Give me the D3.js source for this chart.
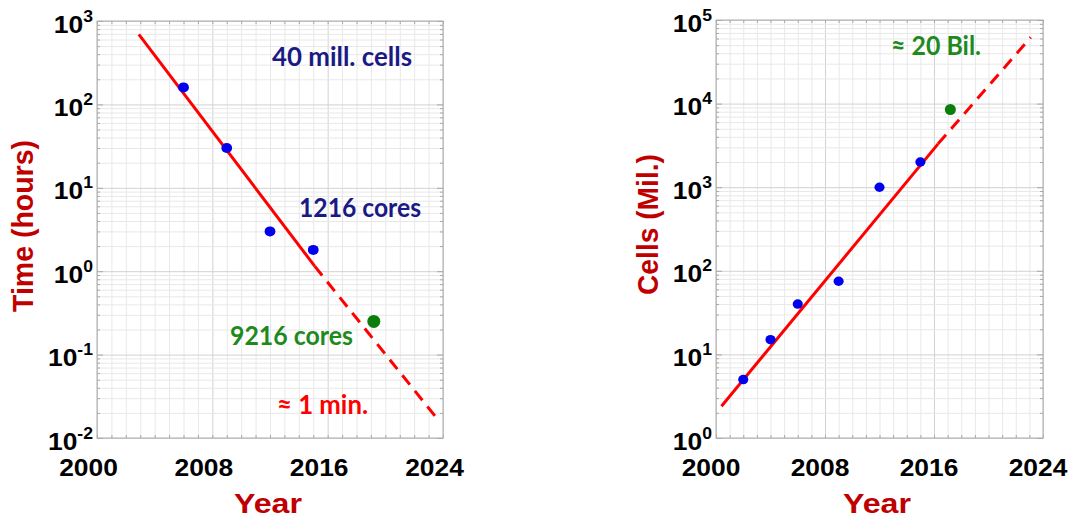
<!DOCTYPE html>
<html><head><meta charset="utf-8">
<script src="https://cdn.jsdelivr.net/npm/d3@7"></script>
<style>body{margin:0;background:#fff}</style></head>
<body><svg id="c" width="1071" height="532"></svg>
<script>
// ---- data ----
const yearTicks = [2000, 2008, 2016, 2024];
const timeYears = [2006, 2009, 2012, 2015];
const timeHours = [160, 30, 3, 1.8];
const timeNewYear = [2019.2];
const timeNewHours = [0.25];
const timeFitYears = [2002.9, 2015.1];
const timeFitHours = [690, 1.15];
const timeProjYears = [2015.1, 2023.6];
const timeProjHours = [1.15, 0.017];
const cellYears = [2002, 2004, 2006, 2009, 2012, 2015];
const cellMil = [5, 15, 40, 75, 1000, 2000];
const cellNewYear = [2017.2];
const cellNewMil = [8500];
const cellFitYears = [2000.4, 2016.3];
const cellFitMil = [2.4, 3300];
const cellProjYears = [2016.3, 2023.1];
const cellProjMil = [3300, 62000];

const svg = d3.select("#c");
const SX = 1.1;
const AXFONT = "'Liberation Sans', Arial, sans-serif";
const ANFONT = "Lato, 'Open Sans', sans-serif";

function zip(a, b) { return a.map((v, i) => [v, b[i]]); }

function panel(o) {
  const x = d3.scaleLinear().domain([2000, 2024]).range([o.left, o.right]);
  const y = d3.scaleLog().domain(o.yDomain).range([o.bottom, o.top]);
  const W = o.right - o.left, H = o.bottom - o.top;
  const g = svg.append("g");
  const minorX = d3.range(2000, 2025);
  const allY = y.ticks();
  const isDec = v => Math.abs(Math.log10(v) - Math.round(Math.log10(v))) < 1e-9;
  const decY = allY.filter(isDec);
  const minorY = allY.filter(v => !isDec(v));

  function clean(sel) { sel.select(".domain").remove(); sel.selectAll("text").remove(); }

  // grids
  const gx = g.append("g").attr("transform", `translate(0,${o.bottom})`)
    .call(d3.axisBottom(x).tickValues(minorX).tickSize(-H).tickFormat(""));
  clean(gx);
  gx.selectAll("line").attr("stroke", d => yearTicks.includes(d) ? "#d2d2d2" : "#e8e8e8").attr("stroke-width", 1);
  const gy = g.append("g").attr("transform", `translate(${o.left},0)`)
    .call(d3.axisLeft(y).tickValues(allY).tickSize(-W).tickFormat(""));
  clean(gy);
  gy.selectAll("line").attr("stroke", d => isDec(d) ? "#d2d2d2" : "#e8e8e8").attr("stroke-width", 1);

  // inward tick marks on all sides
  const tickCol = "#a8a8a8";
  [[d3.axisBottom(x), `translate(0,${o.bottom})`], [d3.axisTop(x), `translate(0,${o.top})`]].forEach(([ax, tr]) => {
    const s = g.append("g").attr("transform", tr).call(ax.tickValues(minorX).tickSize(-3).tickFormat(""));
    clean(s); s.selectAll("line").attr("stroke", tickCol);
  });
  [[d3.axisLeft(y), `translate(${o.left},0)`], [d3.axisRight(y), `translate(${o.right},0)`]].forEach(([ax, tr]) => {
    const s = g.append("g").attr("transform", tr).call(ax.tickValues(minorY).tickSize(-3).tickFormat(""));
    clean(s); s.selectAll("line").attr("stroke", tickCol);
    const s2 = g.append("g").attr("transform", tr).call(ax.tickValues(decY).tickSize(-6).tickFormat(""));
    clean(s2); s2.selectAll("line").attr("stroke", tickCol);
  });

  // frame
  g.append("rect").attr("x", o.left).attr("y", o.top).attr("width", W).attr("height", H)
    .attr("fill", "none").attr("stroke", "#adadad").attr("stroke-width", 1);

  // x tick labels
  const xl = g.append("g").attr("transform", `translate(0,${o.bottom})`)
    .call(d3.axisBottom(x).tickValues(yearTicks).tickSize(0).tickFormat(d3.format("d")));
  xl.select(".domain").remove();
  xl.selectAll("text").attr("y", null).attr("dy", null)
    .attr("transform", `translate(${o.xlabDx},38) scale(${SX},1)`)
    .attr("font-family", AXFONT).attr("font-weight", "bold").attr("font-size", 24).attr("fill", "#000");

  // y tick labels with superscripts
  const yl = g.append("g").attr("transform", `translate(${o.left},0)`)
    .call(d3.axisLeft(y).tickValues(decY).tickSize(0).tickFormat(""));
  yl.select(".domain").remove();
  yl.selectAll("text").each(function (d) {
    const t = d3.select(this);
    t.attr("x", null).attr("dy", null).attr("text-anchor", "end")
      .attr("transform", `translate(-4,11) scale(${SX},1)`)
      .attr("font-family", AXFONT).attr("font-weight", "bold").attr("fill", "#000");
    t.append("tspan").attr("font-size", 24).text("10");
    t.append("tspan").attr("font-size", 16).attr("dy", -11).text(String(Math.round(Math.log10(d))));
  });

  // titles
  g.append("text").attr("text-anchor", "middle")
    .attr("transform", `translate(${o.ytX},${o.ytY}) rotate(-90)`)
    .attr("font-family", AXFONT).attr("font-weight", "bold").attr("font-size", 29)
    .attr("fill", "#c00000").attr("textLength", o.ytLen).attr("lengthAdjust", "spacingAndGlyphs")
    .text(o.yTitle);
  g.append("text").attr("text-anchor", "middle")
    .attr("x", o.xtX).attr("y", 513)
    .attr("font-family", AXFONT).attr("font-weight", "bold").attr("font-size", 27)
    .attr("fill", "#c00000").attr("textLength", 68).attr("lengthAdjust", "spacingAndGlyphs")
    .text("Year");

  // lines
  const line = d3.line().x(d => x(d[0])).y(d => y(d[1]));
  g.append("path").datum(zip(o.fitX, o.fitY)).attr("d", line)
    .attr("fill", "none").attr("stroke", "#ff0000").attr("stroke-width", 3);
  g.append("path").datum(zip(o.projX, o.projY)).attr("d", line)
    .attr("fill", "none").attr("stroke", "#ff0000").attr("stroke-width", 3).attr("stroke-dasharray", "12,8");

  // points
  g.append("g").selectAll("ellipse").data(zip(o.ptX, o.ptY)).join("ellipse")
    .attr("cx", d => x(d[0])).attr("cy", d => y(d[1])).attr("rx", o.r * 1.08).attr("ry", o.r)
    .attr("fill", "#0000ee");
  g.append("g").selectAll("ellipse").data(zip(o.newX, o.newY)).join("ellipse")
    .attr("cx", d => x(d[0])).attr("cy", d => y(d[1])).attr("rx", o.rNew).attr("ry", o.rNew)
    .attr("fill", "#0a7d0a");

  // annotations
  o.notes.forEach(n => {
    g.append("text").attr("x", n.x).attr("y", n.y).text(n.t)
      .attr("font-family", ANFONT).attr("font-weight", "bold").attr("font-size", 26)
      .attr("fill", n.c).attr("textLength", n.w).attr("lengthAdjust", "spacingAndGlyphs");
  });
}

panel({
  left: 97, right: 443, top: 21, bottom: 438, yDomain: [0.01, 1000],
  xlabDx: -9, yTitle: "Time (hours)", ytX: 33, ytY: 226, ytLen: 172, xtX: 268,
  fitX: timeFitYears, fitY: timeFitHours, projX: timeProjYears, projY: timeProjHours,
  ptX: timeYears, ptY: timeHours, newX: timeNewYear, newY: timeNewHours, r: 5, rNew: 6.5,
  notes: [
    { t: "40 mill. cells", x: 272, y: 66, w: 140, c: "#1a1a85" },
    { t: "1216 cores", x: 299, y: 217, w: 122, c: "#1a1a85" },
    { t: "9216 cores", x: 230, y: 345, w: 123, c: "#1e8a1e" },
    { t: "\u2248 1 min.", x: 277, y: 414, w: 91, c: "#ff0000" }
  ]
});

panel({
  left: 716, right: 1043, top: 20, bottom: 438, yDomain: [1, 100000],
  xlabDx: -5.5, yTitle: "Cells (Mil.)", ytX: 658, ytY: 224.5, ytLen: 141, xtX: 877,
  fitX: cellFitYears, fitY: cellFitMil, projX: cellProjYears, projY: cellProjMil,
  ptX: cellYears, ptY: cellMil, newX: cellNewYear, newY: cellNewMil, r: 4.7, rNew: 5.5,
  notes: [
    { t: "\u2248 20 Bil.", x: 891, y: 55, w: 90, c: "#1e8a1e" }
  ]
});
</script>
</body></html>
